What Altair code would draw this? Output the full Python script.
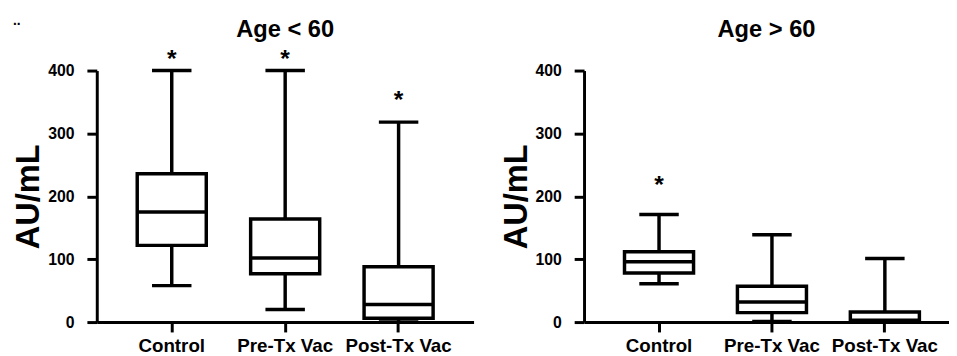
import altair as alt
import pandas as pd

groups = ["Control", "Pre-Tx Vac", "Post-Tx Vac"]

# Age < 60
young_low = [58, 20, 0]
young_q1 = [122, 77, 6]
young_med = [175, 102, 28]
young_q3 = [236, 164, 88]
young_high = [400, 400, 318]
young_star = [425, 425, 360]

# Age > 60
old_low = [61, 1, 0]
old_q1 = [78, 15, 1]
old_med = [96, 32, 3]
old_q3 = [112, 57, 16]
old_high = [171, 139, 101]
old_star = [224, None, None]

y_ticks = [0, 100, 200, 300, 400]

FONT = "Liberation Sans"
LW = 3.5


def panel(title, low, q1, med, q3, high, star, width, pad_outer, align, extra=None):
    df = pd.DataFrame({
        "group": groups, "low": low, "q1": q1, "med": med,
        "q3": q3, "high": high, "star": star,
    })
    base = alt.Chart(df)
    x = alt.X(
        "group:N", sort=groups, title=None,
        scale=alt.Scale(paddingInner=0.4, paddingOuter=pad_outer, align=align),
        axis=alt.Axis(labelAngle=0, labelFont=FONT, labelFontSize=19,
                      labelFontWeight="bold", labelColor="black",
                      tickSize=10, tickWidth=3, tickColor="black",
                      domainWidth=3, domainColor="black", labelPadding=5),
    )
    yaxis = alt.Axis(values=y_ticks, grid=False, labelFont=FONT, labelFontSize=16,
                     labelFontWeight="bold", labelColor="black", tickSize=10,
                     tickWidth=3, tickColor="black", domainWidth=3,
                     domainColor="black", labelPadding=13, title="AU/mL",
                     titleFont=FONT, titleFontSize=33, titleFontWeight="bold",
                     titleColor="black", titlePadding=2)
    y_scale = alt.Scale(domain=[0, 400], nice=False)
    whisker = base.mark_rule(strokeWidth=LW, color="black").encode(
        x=x, y=alt.Y("low:Q", scale=y_scale, axis=yaxis), y2="high:Q")
    box = base.mark_bar(size=70, fill="white", stroke="black", strokeWidth=LW).encode(
        x=x, y=alt.Y("q1:Q", scale=y_scale), y2="q3:Q")
    median = base.mark_tick(size=70, thickness=LW, color="black", opacity=1).encode(
        x=x, y=alt.Y("med:Q", scale=y_scale))
    cap_lo = base.mark_tick(size=40, thickness=LW, color="black", opacity=1).encode(
        x=x, y=alt.Y("low:Q", scale=y_scale))
    cap_hi = base.mark_tick(size=40, thickness=LW, color="black", opacity=1).encode(
        x=x, y=alt.Y("high:Q", scale=y_scale))
    stars = base.transform_filter("isValid(datum.star)").mark_text(
        text="*", font=FONT, fontSize=25, fontWeight="bold", color="black",
        baseline="middle", dy=4).encode(x=x, y=alt.Y("star:Q", scale=y_scale))
    ttl = alt.Chart(pd.DataFrame({"t": [title]})).mark_text(
        font=FONT, fontSize=24, fontWeight="bold", color="black",
        align="center", baseline="alphabetic"
    ).encode(text="t:N", x=alt.value(width / 2), y=alt.value(-34))
    layers = [whisker, box, median, cap_lo, cap_hi, stars, ttl]
    if extra is not None:
        layers.append(extra)
    return alt.layer(*layers).properties(width=width, height=255)


dots = alt.Chart(pd.DataFrame({"t": [".."]})).mark_text(
    font=FONT, fontSize=14, fontWeight="bold", color="black", align="left"
).encode(text="t:N", x=alt.value(-85), y=alt.value(-50))

left = panel("Age < 60", young_low, young_q1, young_med, young_q3, young_high,
             young_star, 382, 0.361, 0.5, extra=dots)
right = panel("Age > 60", old_low, old_q1, old_med, old_q3, old_high,
              old_star, 370, 0.316, 0.576)

chart = alt.hconcat(left, right, spacing=27).properties(
    padding={"left": 5, "top": 4, "right": 0, "bottom": 0}
).configure_view(strokeWidth=0)

chart.save("out.html", embed_options={"renderer": "svg", "actions": False})
